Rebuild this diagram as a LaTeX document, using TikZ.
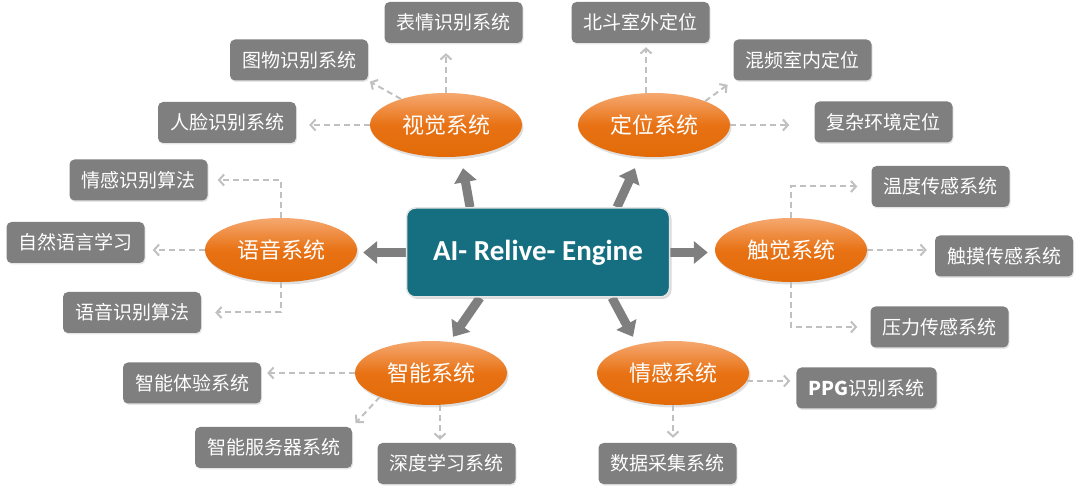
\documentclass[tikz,border=0pt]{standalone}
\usepackage{fontspec}
\setmainfont{Noto Sans CJK SC}
\newfontfamily\engfont{Carlito}
\usetikzlibrary{arrows.meta,shadows,calc,shapes.geometric,backgrounds}
\definecolor{boxgray}{RGB}{127,127,127}
\definecolor{coreteal}{RGB}{22,111,128}
\definecolor{orangetop}{RGB}{245,168,112}
\definecolor{orangemid}{RGB}{232,114,20}
\definecolor{orangebot}{RGB}{226,106,8}
\definecolor{dashgray}{RGB}{192,192,192}
\definecolor{arrowgray}{RGB}{127,127,127}
\begin{document}
\begin{tikzpicture}[x=1pt,y=-1pt,
  core/.style={draw=white!80!gray, line width=1.5pt, fill=coreteal, rounded corners=9pt,
    minimum width=263pt, minimum height=89pt, text=white,
    font=\engfont\bfseries\fontsize{29}{32}\selectfont,
    drop shadow={opacity=0.3,shadow xshift=2pt,shadow yshift=-2pt}},
  sys/.style={ellipse, minimum width=152pt, minimum height=64pt, inner sep=0pt,
    top color=orangetop, bottom color=orangebot, middle color=orangemid,
    text=white, font=\fontsize{22}{24}\selectfont,
    drop shadow={opacity=0.25,shadow xshift=1.5pt,shadow yshift=-2.5pt}},
  leaf/.style={fill=boxgray, rounded corners=5pt, minimum width=137pt, minimum height=41pt,
    inner xsep=12pt, text=white, font=\fontsize{19}{21}\selectfont,
    drop shadow={opacity=0.2,shadow xshift=1pt,shadow yshift=-1.5pt}},
  link/.style={draw=dashgray, line width=2pt, dash pattern=on 6pt off 4pt,
    -{Straight Barb[length=5pt,width=11pt]}},
  big/.style={draw=arrowgray, line width=9pt, -{Triangle[width=22pt,length=14pt]}}
]
\path[use as bounding box] (0,0) rectangle (1080,486);

% centre
\node[core] (core) at (538,252.5) {AI- Relive- Engine};

% systems
\node[sys] (shijue)  at (446,125) {视觉系统};
\node[sys] (dingwei) at (654,125) {定位系统};
\node[sys] (yuyin)   at (281,250) {语音系统};
\node[sys] (chujue)  at (791,250) {触觉系统};
\node[sys] (zhineng) at (431,373) {智能系统};
\node[sys] (qinggan) at (673,373) {情感系统};

% leaves
\node[leaf] (biaoqing) at (453.5,22.5) {表情识别系统};
\node[leaf] (tuwu)     at (299,60)    {图物识别系统};
\node[leaf] (renlian)  at (227,122.5) {人脸识别系统};
\node[leaf] (beidou)   at (640.5,22.5) {北斗室外定位};
\node[leaf] (hunpin)   at (802.5,60)  {混频室内定位};
\node[leaf] (fuza)     at (883.5,122) {复杂环境定位};
\node[leaf] (qgsf)     at (138.5,180) {情感识别算法};
\node[leaf] (ziran)    at (75.5,242.5) {自然语言学习};
\node[leaf] (yysf)     at (132,312.5) {语音识别算法};
\node[leaf] (wendu)    at (940.5,186.5) {温度传感系统};
\node[leaf] (chumo)    at (1004,256)  {触摸传感系统};
\node[leaf] (yali)     at (939.5,327) {压力传感系统};
\node[leaf] (tiyan)    at (192,383)   {智能体验系统};
\node[leaf] (fuwuqi)   at (273.5,447.5) {智能服务器系统};
\node[leaf] (shendu)   at (446.5,463.5) {深度学习系统};
\node[leaf] (ppg)      at (866.5,388) {\textbf{PPG}识别系统};
\node[leaf] (shuju)    at (667.5,463.5) {数据采集系统};

% dashed connectors
\draw[link, shorten >=10pt] (shijue.north) -- (shijue.north |- biaoqing.south);
\draw[link, shorten >=2pt] (shijue.150) -- (tuwu.south east);
\draw[link, shorten >=13pt] (shijue.west) -- (shijue.west -| renlian.east);

\draw[link, shorten >=4pt] ($(dingwei.north)+(-8,0)$) -- ($(dingwei.north |- beidou.south)+(-8,0)$);
\draw[link, shorten >=7pt] (dingwei.25) -- (hunpin.south west);
\draw[link, shorten >=25pt] (dingwei.east) -- (dingwei.east -| fuza.west);

\draw[link, shorten >=10pt] (yuyin.north) |- (qgsf.east);
\draw[link, shorten >=8pt] (yuyin.west) -- (yuyin.west -| ziran.east);
\draw[link, shorten >=14pt] (yuyin.south) |- (yysf.east);

\draw[link, shorten >=14pt] (chujue.north) |- (wendu.west);
\draw[link, shorten >=8pt] (chujue.east) -- (chujue.east -| chumo.west);
\draw[link, shorten >=13pt] (chujue.south) |- (yali.west);

\draw[link, shorten >=6pt] (zhineng.west) -- (zhineng.west -| tiyan.east);
\draw[link, shorten >=5pt] (zhineng.205) -- (fuwuqi.north east);
\draw[link, shorten >=3pt] ($(zhineng.south)+(9,0)$) -- ($(zhineng.south |- shendu.north)+(9,0)$);

\draw[link, shorten >=6pt] ($(qinggan.center)+(74,8)$) -- ($(qinggan.center -| ppg.west)+(0,8)$);
\draw[link, shorten >=5pt] (qinggan.south) -- (qinggan.south |- shuju.north);

% thick arrows
\begin{scope}[on background layer]
\draw[big] ($(core.north)+(-68,0)$) -- ($(shijue.south)+(17,11)$);
\draw[big] ($(core.north)+(79,0)$) -- ($(dingwei.south)+(-19,11)$);
\draw[big] (core.west) -- ($(yuyin.east |- core.west)+(6,0)$);
\draw[big] (core.east) -- ($(chujue.west |- core.east)+(-7,0)$);
\draw[big] ($(core.south)+(-58,0)$) -- ($(zhineng.north)+(22,-4)$);
\draw[big] ($(core.south)+(74,0)$) -- ($(qinggan.north)+(-40,-4)$);
\end{scope}
\end{tikzpicture}
\end{document}
